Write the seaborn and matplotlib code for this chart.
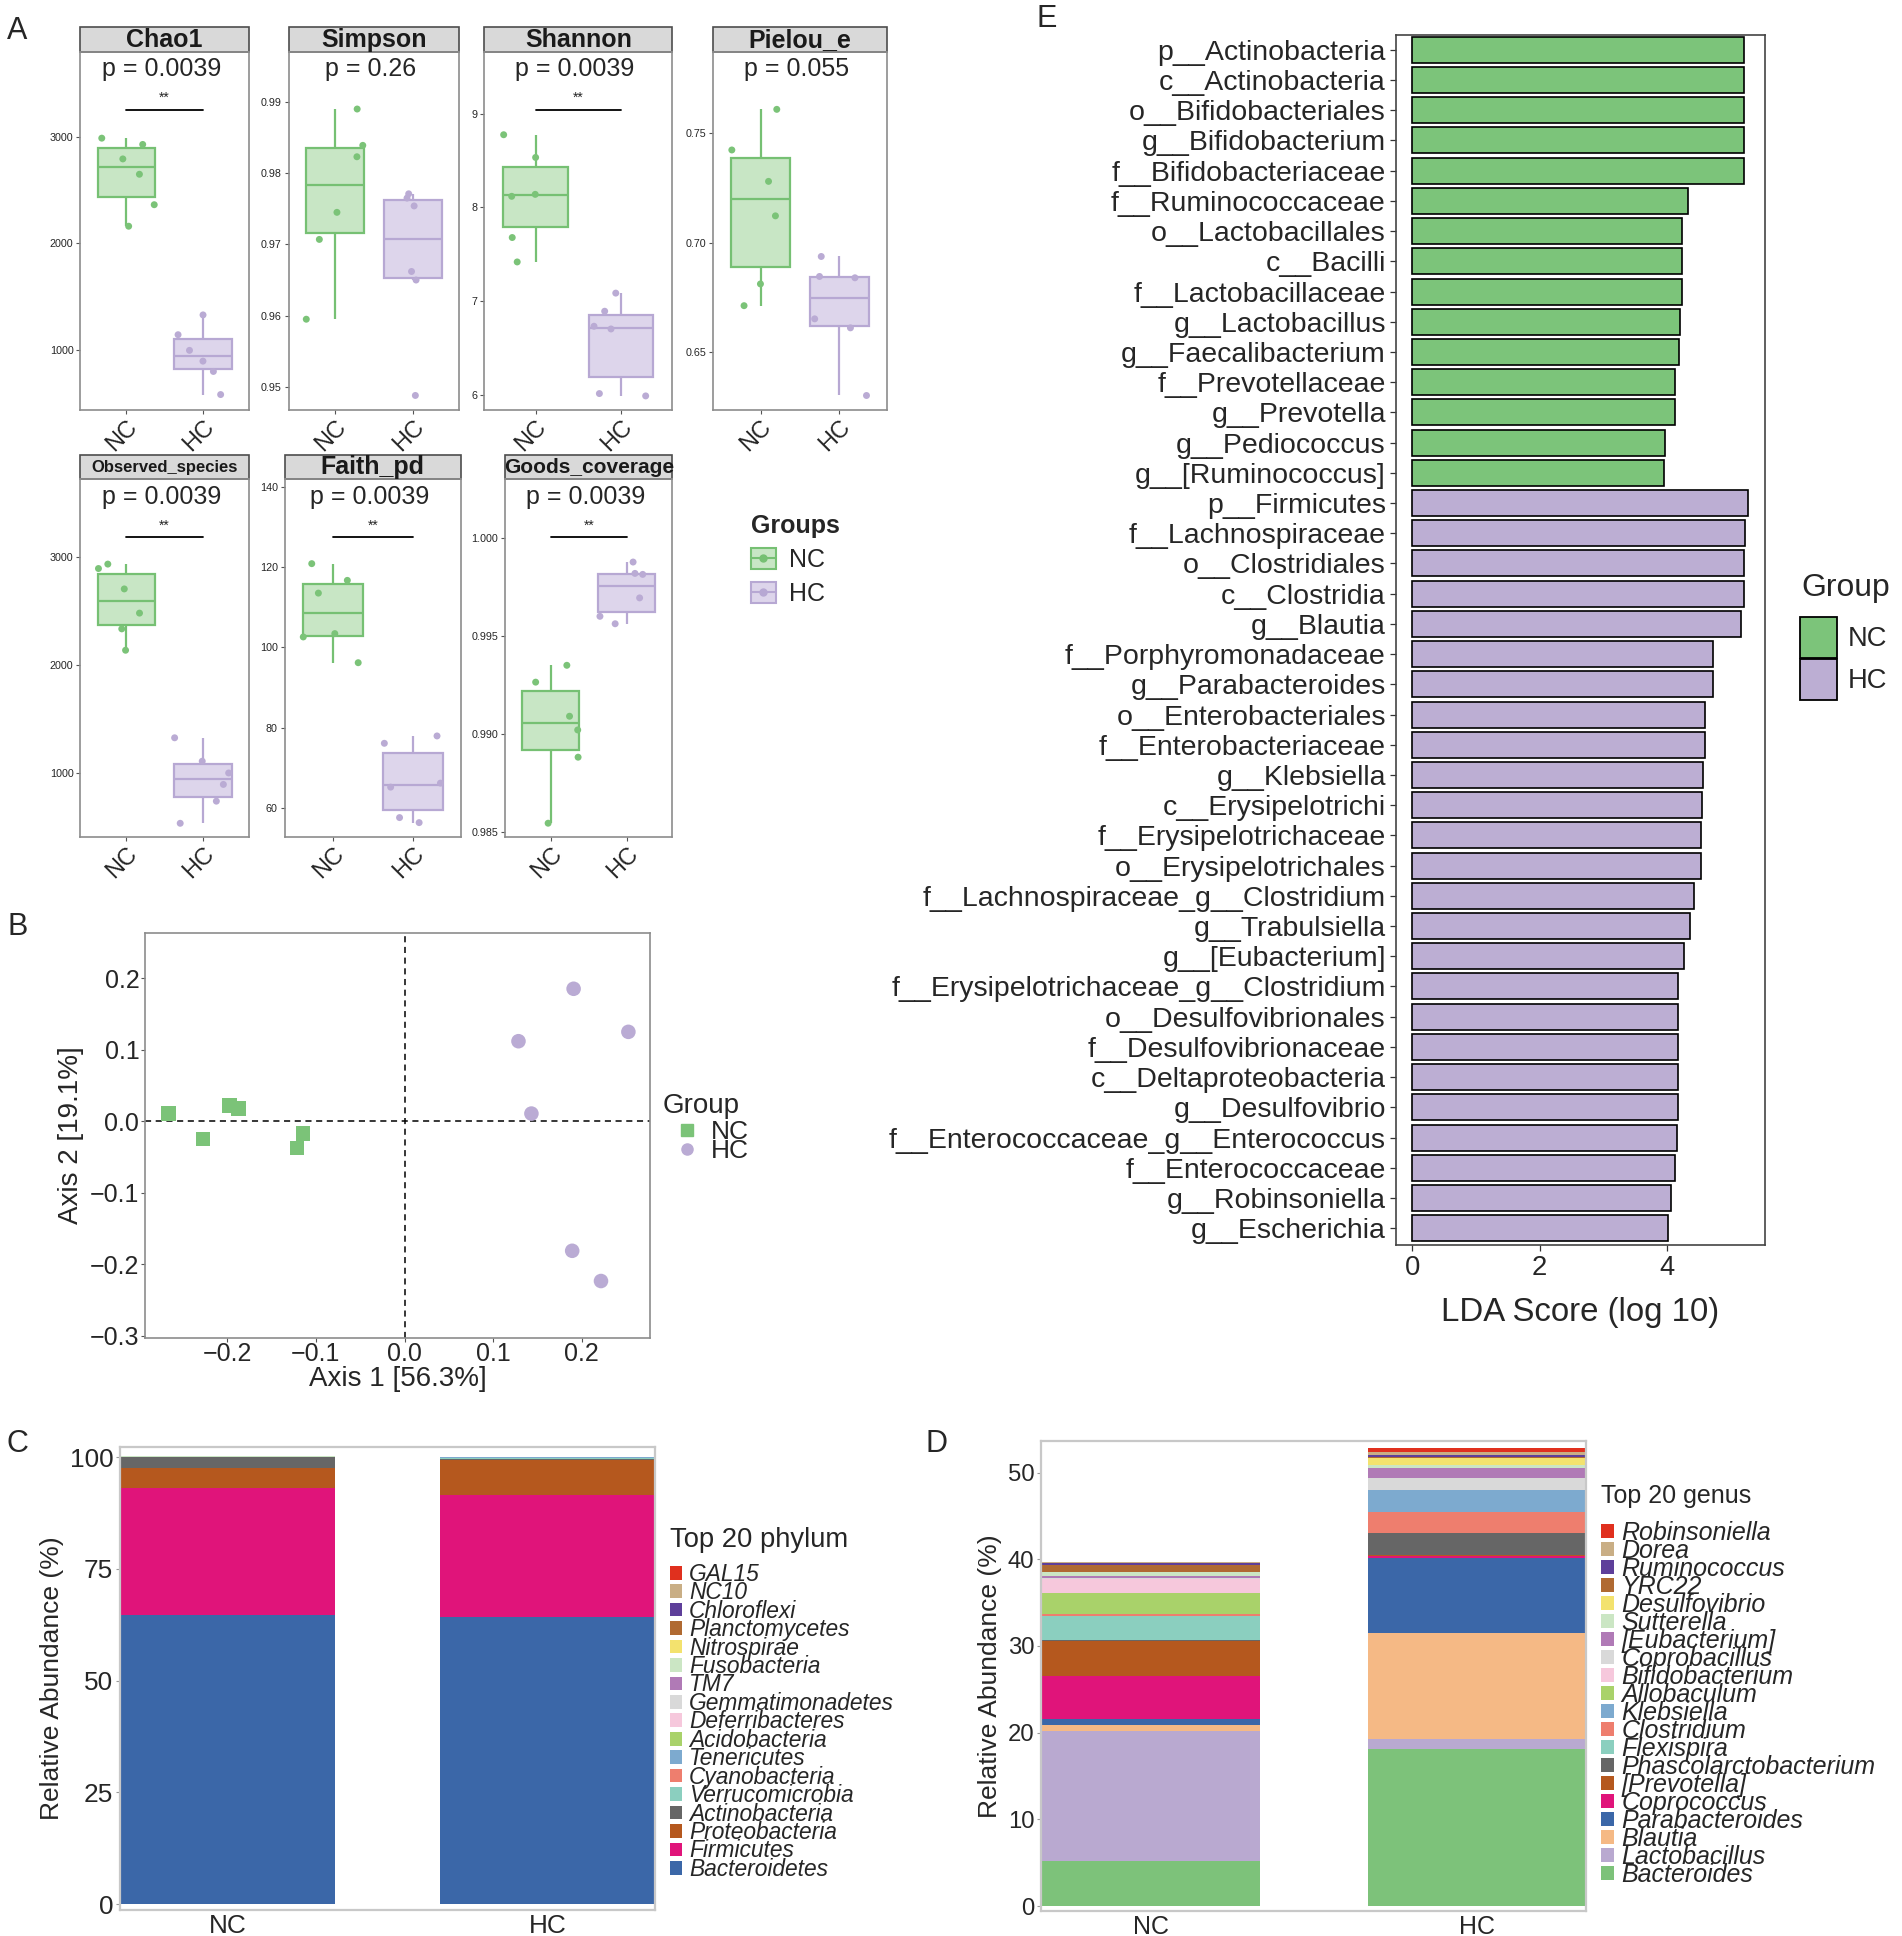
import numpy as np
import pandas as pd
import matplotlib
matplotlib.use('Agg')
import matplotlib.pyplot as plt
import seaborn as sns
from matplotlib import font_manager
from matplotlib.patches import Patch, Rectangle
from matplotlib.lines import Line2D
import matplotlib.transforms as mtransforms

# ---------------- data ----------------
groups = ['NC', 'HC']

chao1_nc = [2987, 2928, 2792, 2648, 2362, 2160]
chao1_hc = [1327, 1141, 994, 893, 796, 579]
simpson_nc = [0.9890, 0.9839, 0.9823, 0.9745, 0.9707, 0.9595]
simpson_hc = [0.9771, 0.9765, 0.9754, 0.9662, 0.9650, 0.9488]
shannon_nc = [8.775, 8.533, 8.140, 8.119, 7.680, 7.420]
shannon_hc = [7.088, 6.895, 6.735, 6.706, 6.018, 5.993]
pielou_nc = [0.7607, 0.7422, 0.7279, 0.7122, 0.6812, 0.6713]
pielou_hc = [0.6937, 0.6840, 0.6846, 0.6653, 0.6612, 0.6304]
observed_nc = [2932, 2891, 2702, 2478, 2332, 2134]
observed_hc = [1323, 1106, 997, 891, 736, 531]
faith_nc = [120.85, 116.69, 113.52, 103.44, 102.61, 96.20]
faith_hc = [77.97, 76.14, 66.23, 65.23, 57.65, 56.40]
goods_nc = [0.99350, 0.99264, 0.99090, 0.99020, 0.98881, 0.98544]
goods_hc = [0.99877, 0.99814, 0.99819, 0.99694, 0.99600, 0.99562]

alpha_names = ['Chao1', 'Simpson', 'Shannon', 'Pielou_e', 'Observed_species', 'Faith_pd', 'Goods_coverage']
alpha_pvalues = ['p = 0.0039', 'p = 0.26', 'p = 0.0039', 'p = 0.055', 'p = 0.0039', 'p = 0.0039', 'p = 0.0039']
alpha_signif = ['**', '', '**', '', '**', '**', '**']

pcoa_group = ['NC'] * 6 + ['HC'] * 6
pcoa_axis1 = [-0.2665, -0.2272, -0.1975, -0.1874, -0.1144, -0.1212,
              0.1907, 0.2525, 0.1285, 0.1431, 0.1891, 0.2216]
pcoa_axis2 = [0.0108, -0.0245, 0.0221, 0.0179, -0.0169, -0.0372,
              0.1855, 0.1252, 0.1121, 0.0108, -0.1813, -0.2236]

phylum_names = ['GAL15', 'NC10', 'Chloroflexi', 'Planctomycetes', 'Nitrospirae', 'Fusobacteria',
                'TM7', 'Gemmatimonadetes', 'Deferribacteres', 'Acidobacteria', 'Tenericutes',
                'Cyanobacteria', 'Verrucomicrobia', 'Actinobacteria', 'Proteobacteria',
                'Firmicutes', 'Bacteroidetes']
phylum_nc = [0.01, 0.01, 0.01, 0.01, 0.01, 0.01, 0.02, 0.01, 0.02, 0.01, 0.05,
             0.05, 0.05, 2.30, 4.50, 28.50, 64.60]
phylum_hc = [0.01, 0.01, 0.01, 0.01, 0.01, 0.01, 0.02, 0.01, 0.01, 0.01, 0.10,
             0.05, 0.30, 0.10, 8.00, 27.20, 64.20]

genus_names = ['Robinsoniella', 'Dorea', 'Ruminococcus', 'YRC22', 'Desulfovibrio', 'Sutterella',
               '[Eubacterium]', 'Coprobacillus', 'Bifidobacterium', 'Allobaculum', 'Klebsiella',
               'Clostridium', 'Flexispira', 'Phascolarctobacterium', '[Prevotella]', 'Coprococcus',
               'Parabacteroides', 'Blautia', 'Lactobacillus', 'Bacteroides']
genus_nc = [0.05, 0.10, 0.25, 0.75, 0.05, 0.50, 0.20, 0.10, 1.65, 2.35, 0.05,
            0.25, 2.70, 0.15, 4.05, 5.00, 0.60, 0.80, 15.00, 5.14]
genus_hc = [0.50, 0.30, 0.25, 0.15, 0.75, 0.35, 1.20, 1.30, 0.05, 0.05, 2.45,
            2.45, 0.05, 2.55, 0.05, 0.20, 8.67, 12.29, 1.15, 18.08]

lda_features = ['p__Actinobacteria', 'c__Actinobacteria', 'o__Bifidobacteriales', 'g__Bifidobacterium',
                'f__Bifidobacteriaceae', 'f__Ruminococcaceae', 'o__Lactobacillales', 'c__Bacilli',
                'f__Lactobacillaceae', 'g__Lactobacillus', 'g__Faecalibacterium', 'f__Prevotellaceae',
                'g__Prevotella', 'g__Pediococcus', 'g__[Ruminococcus]',
                'p__Firmicutes', 'f__Lachnospiraceae', 'o__Clostridiales', 'c__Clostridia', 'g__Blautia',
                'f__Porphyromonadaceae', 'g__Parabacteroides', 'o__Enterobacteriales',
                'f__Enterobacteriaceae', 'g__Klebsiella', 'c__Erysipelotrichi', 'f__Erysipelotrichaceae',
                'o__Erysipelotrichales', 'f__Lachnospiraceae_g__Clostridium', 'g__Trabulsiella',
                'g__[Eubacterium]', 'f__Erysipelotrichaceae_g__Clostridium', 'o__Desulfovibrionales',
                'f__Desulfovibrionaceae', 'c__Deltaproteobacteria', 'g__Desulfovibrio',
                'f__Enterococcaceae_g__Enterococcus', 'f__Enterococcaceae', 'g__Robinsoniella',
                'g__Escherichia']
lda_scores = [5.21, 5.21, 5.21, 5.21, 5.21, 4.33, 4.24, 4.24, 4.24, 4.21, 4.19, 4.12, 4.12, 3.97, 3.96,
              5.27, 5.22, 5.21, 5.21, 5.16, 4.72, 4.72, 4.59, 4.59, 4.56, 4.55, 4.54, 4.54, 4.42,
              4.36, 4.27, 4.17, 4.17, 4.17, 4.17, 4.17, 4.15, 4.13, 4.06, 4.01]
lda_groups = ['NC'] * 15 + ['HC'] * 25

# ---------------- style ----------------
sns.set_theme(style='white')
names = {f.name for f in font_manager.fontManager.ttflist}
HAS_NARROW = 'Liberation Sans Narrow' in names
REG = 'Liberation Sans' if 'Liberation Sans' in names else 'DejaVu Sans'
NAR = 'Liberation Sans Narrow' if HAS_NARROW else REG
plt.rcParams['font.family'] = [REG, 'DejaVu Sans']


def nfs(s):
    return s if HAS_NARROW else s * 0.82


EDGE = {'NC': '#76C073', 'HC': '#B7A8D3'}
FILL = {'NC': '#C8E6C5', 'HC': '#DDD5EB'}
PT = {'NC': '#7BC378', 'HC': '#BAABD4'}
BARC = {'NC': '#7CC47A', 'HC': '#BCAED3'}

phylum_colors = ['#E0301E', '#C9AE85', '#5E3F9A', '#B06A32', '#F3E26E', '#CBE6C4', '#B07AB6',
                 '#D9D9D9', '#F6C8DC', '#A9D26A', '#7DAACF', '#EE7E6E', '#8BCFBF', '#666666',
                 '#B5581E', '#E0147A', '#3B67A8']
genus_colors = ['#E0301E', '#C9AE85', '#5E3F9A', '#B06A32', '#F3E26E', '#CBE6C4', '#B07AB6',
                '#D9D9D9', '#F6C8DC', '#A9D26A', '#7DAACF', '#EE7E6E', '#8BCFBF', '#666666',
                '#B5581E', '#E0147A', '#3B67A8', '#F5B985', '#B9A9D0', '#7DC27A']

W, H = 1536.0, 1563.0
fig = plt.figure(figsize=(19.02, 19.36), dpi=100)


def add_ax(x0, y0, x1, y1):
    return fig.add_axes([x0 / W, 1 - y1 / H, (x1 - x0) / W, (y1 - y0) / H])


def fpos(x, y):
    return (x / W, 1 - y / H)


def frame(ax, color, lw):
    for s in ax.spines.values():
        s.set_visible(True)
        s.set_color(color)
        s.set_linewidth(lw)


# ---------------- Panel A ----------------
alpha_data = [(chao1_nc, chao1_hc), (simpson_nc, simpson_hc), (shannon_nc, shannon_hc),
              (pielou_nc, pielou_hc), (observed_nc, observed_hc), (faith_nc, faith_hc),
              (goods_nc, goods_hc)]
alpha_layout = [
    dict(rect=(65, 42, 201, 331), ylim=(434, 3796), yticks=[1000, 2000, 3000], fmt='{:.0f}', tfs=18),
    dict(rect=(233, 42, 371, 331), ylim=(0.94676, 0.9970), yticks=[0.95, 0.96, 0.97, 0.98, 0.99], fmt='{:.2f}', tfs=18),
    dict(rect=(391, 42, 543, 331), ylim=(5.843, 9.656), yticks=[6, 7, 8, 9], fmt='{:.0f}', tfs=18),
    dict(rect=(576, 42, 716, 331), ylim=(0.6238, 0.7868), yticks=[0.65, 0.70, 0.75], fmt='{:.2f}', tfs=18),
    dict(rect=(65, 387, 201, 676), ylim=(401, 3717), yticks=[1000, 2000, 3000], fmt='{:.0f}', tfs=12),
    dict(rect=(230, 387, 372, 676), ylim=(52.74, 141.83), yticks=[60, 80, 100, 120, 140], fmt='{:.0f}', tfs=18),
    dict(rect=(408, 387, 543, 676), ylim=(0.98472, 1.00299), yticks=[0.985, 0.990, 0.995, 1.000], fmt='{:.3f}', tfs=15),
]

for i, (name, (nc, hc), lay) in enumerate(zip(alpha_names, alpha_data, alpha_layout)):
    ax = add_ax(*lay['rect'])
    df = pd.DataFrame({'Group': ['NC'] * len(nc) + ['HC'] * len(hc), 'value': list(nc) + list(hc)})
    for g in groups:
        sub = df[df['Group'] == g]
        sns.boxplot(data=sub, x='Group', y='value', order=groups, color=FILL[g], linecolor=EDGE[g],
                    linewidth=1.6, width=0.75, showfliers=False, showcaps=False, saturation=1, ax=ax)
    np.random.seed(7 + i)
    sns.stripplot(data=df, x='Group', y='value', order=groups, hue='Group', hue_order=groups,
                  palette=PT, size=5, jitter=0.38, legend=False, ax=ax, zorder=3)
    ax.set_xlim(-0.6, 1.6)
    ax.set_ylim(*lay['ylim'])
    ax.set_yticks(lay['yticks'])
    ax.set_yticklabels([lay['fmt'].format(v) for v in lay['yticks']], fontsize=nfs(9.5), family=NAR)
    ax.set_xticks([0, 1])
    ax.set_xticklabels(groups, rotation=45, ha='right', va='top', rotation_mode='anchor',
                       fontsize=17)
    ax.set_xlabel('')
    ax.set_ylabel('')
    ax.tick_params(axis='both', length=3, width=0.8, color='#555555', pad=2, left=True, bottom=True)
    ax.tick_params(axis='x', pad=1)
    frame(ax, '#8C8C8C', 1.2)
    ax.add_patch(Rectangle((0, 1), 1, 0.069, transform=ax.transAxes, clip_on=False,
                           facecolor='#D9D9D9', edgecolor='#4D4D4D', lw=1.2))
    ax.text(0.5, 1.0345, name, transform=ax.transAxes, ha='center', va='center',
            fontsize=lay['tfs'], fontweight='bold', color='#1A1A1A')
    ax.text(0.48, 0.952, alpha_pvalues[i], transform=ax.transAxes, ha='center', va='center',
            fontsize=nfs(22), family=NAR)
    if alpha_signif[i]:
        tr = mtransforms.blended_transform_factory(ax.transData, ax.transAxes)
        ax.plot([0, 1], [0.838, 0.838], transform=tr, color='black', lw=1.3, clip_on=False)
        ax.text(0.5, 0.852, alpha_signif[i], transform=tr, ha='center', va='bottom', fontsize=10)

h_nc = (Patch(facecolor=FILL['NC'], edgecolor=EDGE['NC'], lw=1.5),
        Line2D([], [], color=EDGE['NC'], marker='o', ms=5, lw=1.5))
h_hc = (Patch(facecolor=FILL['HC'], edgecolor=EDGE['HC'], lw=1.5),
        Line2D([], [], color=EDGE['HC'], marker='o', ms=5, lw=1.5))
fig.legend(handles=[h_nc, h_hc], labels=groups, title='Groups', loc='upper left',
           bbox_to_anchor=fpos(588, 397), frameon=False, fontsize=18,
           title_fontproperties={'weight': 'bold', 'size': 18}, handlelength=1.0, handleheight=0.9,
           labelspacing=0.4, alignment='left', handletextpad=0.55)

# ---------------- Panel B ----------------
axB = add_ax(117, 753, 525, 1080)
dfb = pd.DataFrame({'Axis1': pcoa_axis1, 'Axis2': pcoa_axis2, 'Group': pcoa_group})
sns.scatterplot(data=dfb, x='Axis1', y='Axis2', hue='Group', hue_order=groups, style='Group',
                style_order=groups, markers={'NC': 's', 'HC': 'o'}, palette=PT, s=110,
                edgecolor='none', legend=False, ax=axB)
axB.axvline(0, ls=(0, (4, 3)), color='black', lw=1.1, zorder=0)
axB.axhline(0, ls=(0, (4, 3)), color='black', lw=1.1, zorder=0)
axB.set_xlim(-0.293, 0.277)
axB.set_ylim(-0.303, 0.264)
axB.set_xticks([-0.2, -0.1, 0.0, 0.1, 0.2])
axB.set_yticks([-0.3, -0.2, -0.1, 0.0, 0.1, 0.2])
axB.tick_params(axis='both', labelsize=18, length=3, width=0.8, color='#555555', left=True, bottom=True, pad=1)
axB.tick_params(axis='x', pad=0)
axB.set_xlabel('Axis 1 [56.3%]', fontsize=20, labelpad=0)
axB.set_ylabel('Axis 2 [19.1%]', fontsize=20, labelpad=4)
frame(axB, '#8C8C8C', 1.2)
legB = [Line2D([], [], ls='none', marker='s', ms=8, color=PT['NC']),
        Line2D([], [], ls='none', marker='o', ms=8, color=PT['HC'])]
fig.text(*fpos(535, 893), 'Group', fontsize=20, ha='left', va='center')
fig.legend(handles=legB, labels=groups, loc='upper left', bbox_to_anchor=fpos(542, 900),
           frameon=False, borderaxespad=0, fontsize=19, labelspacing=-0.2, handlelength=0.8,
           handletextpad=0.5, borderpad=0.2)

# ---------------- Panel C ----------------
axC = add_ax(97, 1168, 529, 1542)
dfc = pd.DataFrame({'Group': ['NC'] * len(phylum_names) + ['HC'] * len(phylum_names),
                    'Taxon': phylum_names * 2, 'Abundance': phylum_nc + phylum_hc})
sns.histplot(data=dfc, x='Group', weights='Abundance', hue='Taxon', hue_order=phylum_names,
             palette=dict(zip(phylum_names, phylum_colors)), multiple='stack', discrete=True,
             shrink=0.67, linewidth=0, alpha=1, legend=False, ax=axC)
axC.set_xlim(-0.335, 1.335)
axC.set_ylim(-1.3, 102.3)
axC.set_yticks([0, 25, 50, 75, 100])
axC.set_xticks([0, 1])
axC.set_xticklabels(groups, fontsize=nfs(23), family=NAR)
axC.set_yticklabels(['0', '25', '50', '75', '100'], fontsize=nfs(23), family=NAR)
axC.tick_params(axis='both', length=3, width=0.8, color='#999999', left=True, bottom=False, pad=2)
axC.tick_params(axis='x', pad=0)
axC.set_xlabel('')
axC.set_ylabel('Relative Abundance (%)', fontsize=19, labelpad=4)
frame(axC, '#C8C8C8', 1.6)
hC = [Patch(facecolor=c, edgecolor='none') for c in phylum_colors]
fig.text(*fpos(541, 1243), 'Top 20 phylum', family=NAR, fontsize=nfs(24), ha='left', va='center')
fig.legend(handles=hC, labels=phylum_names, loc='upper left',
           bbox_to_anchor=fpos(537, 1258), frameon=False, borderaxespad=0,
           prop={'family': NAR, 'style': 'italic', 'size': nfs(20)},
           labelspacing=-0.2, handlelength=0.55, handleheight=0.55, handletextpad=0.3, borderpad=0.2)

# ---------------- Panel D ----------------
axD = add_ax(841, 1163, 1281, 1543)
dfd = pd.DataFrame({'Group': ['NC'] * len(genus_names) + ['HC'] * len(genus_names),
                    'Taxon': genus_names * 2, 'Abundance': genus_nc + genus_hc})
sns.histplot(data=dfd, x='Group', weights='Abundance', hue='Taxon', hue_order=genus_names,
             palette=dict(zip(genus_names, genus_colors)), multiple='stack', discrete=True,
             shrink=0.67, linewidth=0, alpha=1, legend=False, ax=axD)
axD.set_xlim(-0.335, 1.335)
axD.set_ylim(-0.6, 53.7)
axD.set_yticks([0, 10, 20, 30, 40, 50])
axD.set_xticks([0, 1])
axD.set_xticklabels(groups, fontsize=nfs(22), family=NAR)
axD.set_yticklabels(['0', '10', '20', '30', '40', '50'], fontsize=nfs(21), family=NAR)
axD.tick_params(axis='both', length=3, width=0.8, color='#999999', left=True, bottom=False, pad=2)
axD.tick_params(axis='x', pad=0)
axD.set_xlabel('')
axD.set_ylabel('Relative Abundance (%)', fontsize=19, labelpad=4)
frame(axD, '#C8C8C8', 1.6)
hD = [Patch(facecolor=c, edgecolor='none') for c in genus_colors]
fig.text(*fpos(1293, 1208), 'Top 20 genus', family=NAR, fontsize=nfs(22), ha='left', va='center')
fig.legend(handles=hD, labels=genus_names, loc='upper left',
           bbox_to_anchor=fpos(1289, 1224), frameon=False, borderaxespad=0,
           prop={'family': NAR, 'style': 'italic', 'size': nfs(22)},
           labelspacing=-0.24, handlelength=0.5, handleheight=0.5, handletextpad=0.3, borderpad=0.2)

# ---------------- Panel E ----------------
axE = add_ax(1127, 28, 1425, 1005)
dfe = pd.DataFrame({'feature': lda_features, 'score': lda_scores, 'Group': lda_groups})
sns.barplot(data=dfe, x='score', y='feature', hue='Group', hue_order=groups, palette=BARC,
            dodge=False, width=0.86, edgecolor='black', linewidth=1.2, errorbar=None,
            legend=False, saturation=1, orient='h', ax=axE)
axE.set_xlim(-0.26, 5.53)
axE.set_ylim(len(lda_features) - 0.45, -0.5)
axE.set_xticks([0, 2, 4])
axE.set_xticklabels(['0', '2', '4'], fontsize=nfs(24), family=NAR)
axE.set_yticks(range(len(lda_features)))
axE.set_yticklabels(lda_features, fontsize=nfs(25), family=NAR)
axE.tick_params(axis='both', length=4, width=0.9, color='#333333', left=True, bottom=True, pad=3)
axE.set_ylabel('')
axE.set_xlabel('LDA Score (log 10)', fontsize=nfs(29), family=NAR, labelpad=12)
frame(axE, '#444444', 1.2)
hE = [Patch(facecolor=BARC[g], edgecolor='black', lw=1.3) for g in groups]
fig.text(*fpos(1455, 475), 'Group', family=NAR, fontsize=nfs(28), ha='left', va='center')
fig.legend(handles=hE, labels=groups, loc='upper left', bbox_to_anchor=fpos(1445, 489),
           frameon=False, borderaxespad=0, prop={'family': NAR, 'size': nfs(24)},
           handlelength=1.35, handleheight=1.95, labelspacing=0.02, handletextpad=0.4)

# ---------------- panel letters ----------------
for letter, (x, y) in zip('ABCDE', [(14, 25), (14, 748), (14, 1166), (756, 1166), (845, 15)]):
    fig.text(*fpos(x, y), letter, fontsize=22, ha='center', va='center')

fig.savefig('out.png', dpi=100)
